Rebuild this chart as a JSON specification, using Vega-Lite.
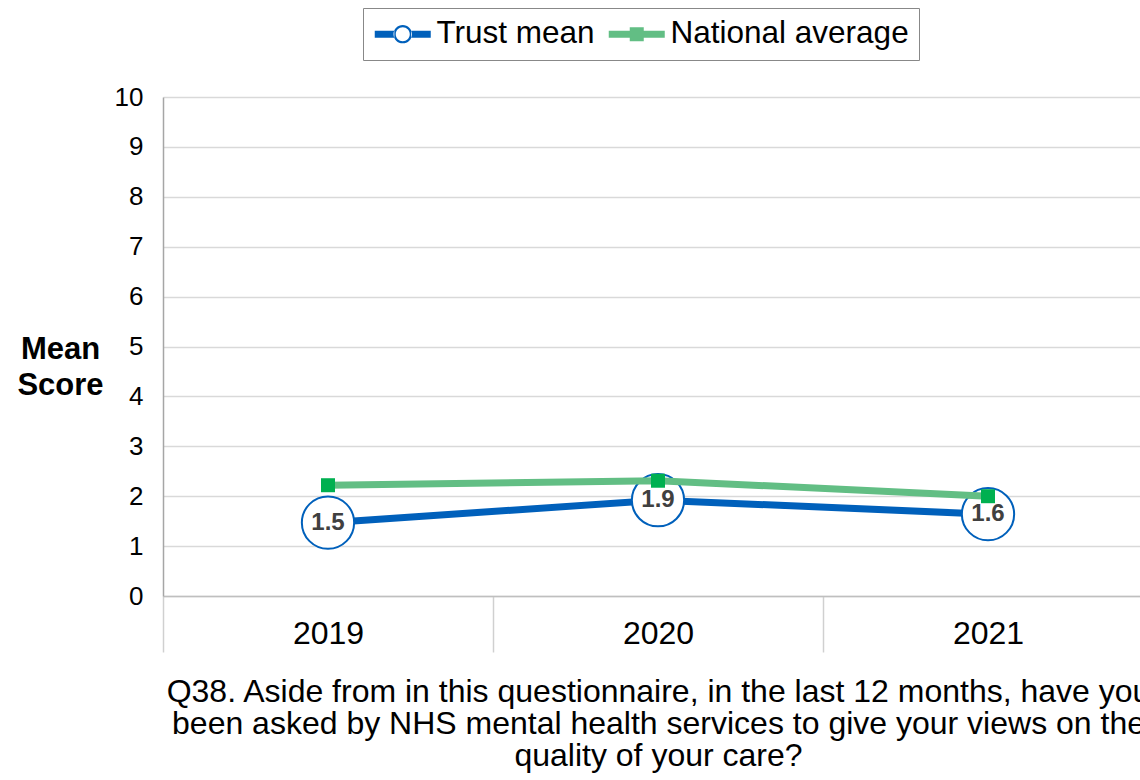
{
  "$schema": "https://vega.github.io/schema/vega-lite/v6.json",
  "autosize": {"type": "none"},
  "padding": {"left": 163, "top": 97, "right": 0, "bottom": 184},
  "width": 977,
  "height": 499,
  "background": "white",
  "config": {
    "view": {"stroke": null},
    "font": "Liberation Sans"
  },
  "data": {
    "values": [
      {"year": "2019", "series": "Trust mean", "value": 1.47},
      {"year": "2020", "series": "Trust mean", "value": 1.92},
      {"year": "2021", "series": "Trust mean", "value": 1.64},
      {"year": "2019", "series": "National average", "value": 2.22},
      {"year": "2020", "series": "National average", "value": 2.31},
      {"year": "2021", "series": "National average", "value": 2.0}
    ]
  },
  "encoding": {
    "x": {
      "field": "year",
      "type": "ordinal",
      "bandPosition": 0.5,
      "scale": {"type": "band", "range": [0, 990], "paddingInner": 0, "paddingOuter": 0},
      "axis": {
        "title": ["Q38. Aside from in this questionnaire, in the last 12 months, have you", "been asked by NHS mental health services to give your views on the", "quality of your care?"],
        "titleFont": "Liberation Sans",
        "titleFontSize": 32,
        "titleFontWeight": "normal",
        "titleColor": "#000000",
        "titleLineHeight": 32,
        "titleX": 495,
        "titleY": 80,
        "titleAlign": "center",
        "titleBaseline": "top",
        "titleLimit": 2000,
        "labelFont": "Liberation Sans",
        "labelFontSize": 32,
        "labelColor": "#000000",
        "labelAngle": 0,
        "labelPadding": -34,
        "tickBand": "extent",
        "tickSize": 56,
        "tickColor": "#D0D0D0",
        "tickWidth": 1.5,
        "domainColor": "#BFBFBF",
        "domainWidth": 1.5,
        "grid": false
      }
    },
    "y": {
      "field": "value",
      "type": "quantitative",
      "scale": {"domain": [0, 10], "nice": false, "zero": true},
      "axis": {
        "values": [0, 1, 2, 3, 4, 5, 6, 7, 8, 9, 10],
        "grid": true,
        "gridColor": "#D9D9D9",
        "gridWidth": 1.5,
        "domainColor": "#A6A6A6",
        "domainWidth": 1.5,
        "ticks": false,
        "labelFont": "Liberation Sans",
        "labelFontSize": 26,
        "labelColor": "#000000",
        "labelPadding": 20,
        "title": ["Mean", "Score"],
        "titleFont": "Liberation Sans",
        "titleFontSize": 31,
        "titleFontWeight": "bold",
        "titleColor": "#000000",
        "titleAngle": 0,
        "titleAlign": "center",
        "titleBaseline": "middle",
        "titleLineHeight": 36,
        "titleX": -103,
        "titleY": 252
      }
    }
  },
  "layer": [
    {
      "transform": [{"filter": "datum.series === 'Trust mean'"}],
      "mark": {"type": "line", "strokeWidth": 7},
      "encoding": {
        "color": {
          "field": "series",
          "type": "nominal",
          "scale": {"domain": ["Trust mean", "National average"], "range": ["#0060BB", "#62BE84"]},
          "legend": {
            "orient": "none",
            "legendX": 200,
            "legendY": -89,
            "direction": "horizontal",
            "title": null,
            "strokeColor": "#888888",
            "fillColor": "#FFFFFF",
            "padding": 10,
            "symbolSize": 784,
            "labelOffset": 32,
            "columnPadding": 12,
            "labelLimit": 600,
            "labelFont": "Liberation Sans",
            "labelFontSize": 31.5,
            "labelColor": "#000000",
            "encode": {
              "symbols": {
                "update": {
                  "shape": {"signal": "datum.value === 'Trust mean' ? 'M-1,-0.25 H0.4 V0.25 H-1 Z M1.6,-0.25 H3 V0.25 H1.6 Z M0.34,0 A0.66,0.66 0 1,0 1.66,0 A0.66,0.66 0 1,0 0.34,0 Z M0.5,0 A0.5,0.5 0 1,1 1.5,0 A0.5,0.5 0 1,1 0.5,0 Z' : 'M-1,-0.25 H3 V0.25 H-1 Z M0.5,-0.5 H1.5 V0.5 H0.5 Z'"},
                  "fill": {"signal": "datum.value === 'Trust mean' ? '#0060BB' : '#62BE84'"},
                  "fillOpacity": {"value": 1},
                  "stroke": {"value": "transparent"},
                  "strokeWidth": {"value": 0}
                }
              }
            }
          }
        }
      }
    },
    {
      "transform": [{"filter": "datum.series === 'Trust mean'"}],
      "mark": {"type": "point", "shape": "circle", "size": 2734, "filled": false, "fill": "#FFFFFF", "fillOpacity": 1, "stroke": "#0060BB", "strokeWidth": 2, "opacity": 1}
    },
    {
      "transform": [{"filter": "datum.series === 'Trust mean'"}],
      "mark": {"type": "text", "font": "Liberation Sans", "fontSize": 24, "fontWeight": "bold", "color": "#404040", "align": "center", "baseline": "middle"},
      "encoding": {
        "text": {"field": "value", "type": "quantitative", "format": ".1f"}
      }
    },
    {
      "transform": [{"filter": "datum.series === 'National average'"}],
      "mark": {"type": "line", "strokeWidth": 7},
      "encoding": {
        "color": {"field": "series", "type": "nominal"}
      }
    },
    {
      "transform": [{"filter": "datum.series === 'National average'"}],
      "mark": {"type": "point", "shape": "square", "size": 196, "filled": true, "color": "#00B050", "opacity": 1}
    }
  ]
}
